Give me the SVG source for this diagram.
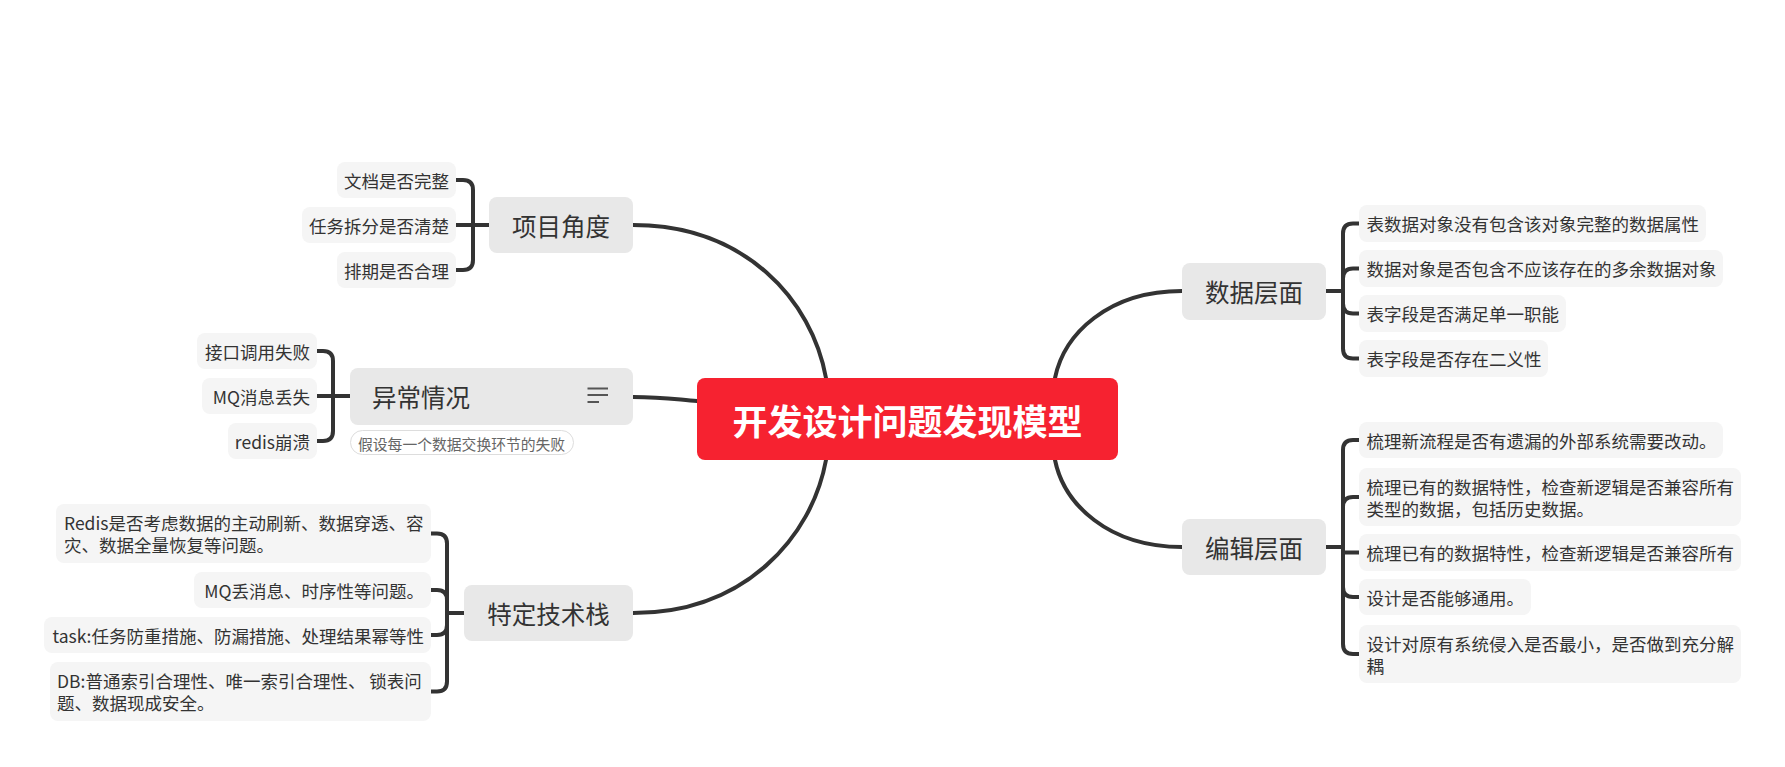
<svg xmlns="http://www.w3.org/2000/svg" width="1785" height="767" viewBox="0 0 1785 767">
<style>
text{font-family:"Noto Sans CJK SC","Noto Sans",sans-serif;fill:#333;dominant-baseline:central}
.main{fill:#E8E8E8}
.sub{fill:#F5F5F5}
.mt{font-size:24.5px}
.st{font-size:17.5px}
.end{text-anchor:end}
.mid{text-anchor:middle}
.ln{fill:none;stroke:#333;stroke-width:4;stroke-linecap:round;stroke-linejoin:round}
</style>
<rect width="1785" height="767" fill="#FFFFFF"/>
<g id="connectors">
<path class="ln" d="M633,225 C745,225 812,300 826,378"/>
<path class="ln" d="M633,397 C665,397 680,400 697,401"/>
<path class="ln" d="M633,613 C745,613 812,537 826,460"/>
<path class="ln" d="M1055,378 C1064,334 1108,291 1182,291"/>
<path class="ln" d="M1055,460 C1064,504 1108,547 1182,547"/>
<path class="ln" d="M489,225 H473 M456,180 H463 Q473,180 473,190 V260 Q473,270 463,270 H456 M456,225 H473"/>
<path class="ln" d="M350,396 H333 M317,351 H323 Q333,351 333,361 V431 Q333,441 323,441 H317 M317,396 H333"/>
<path class="ln" d="M464,613 H447 M431,533.5 H437 Q447,533.5 447,543.5 V681.5 Q447,691.5 437,691.5 H431 M431,590 H437 Q447,590 447,600 M431,635 H437 Q447,635 447,625"/>
<path class="ln" d="M1326,291 H1343 M1359,223.5 H1353 Q1343,223.5 1343,233.5 V348.5 Q1343,358.5 1353,358.5 H1359 M1359,268.5 H1353 Q1343,268.5 1343,278.5 M1359,313.5 H1353 Q1343,313.5 1343,303.5"/>
<path class="ln" d="M1326,547 H1343 M1359,440 H1353 Q1343,440 1343,450 V644 Q1343,654 1353,654 H1359 M1359,497 H1353 Q1343,497 1343,507 M1359,552.5 H1343 M1359,597 H1353 Q1343,597 1343,587"/>
</g>
<g id="center">
<rect x="697" y="378" width="421" height="82" rx="8" fill="#F62230"/>
<text x="907.5" y="419" class="mid" style="font-size:35px;font-weight:bold;fill:#FFFFFF">开发设计问题发现模型</text>
</g>
<g id="node-xiangmu">
<rect class="main" x="489" y="197" width="144" height="56" rx="8"/>
<text class="mt mid" x="561" y="225">项目角度</text>
</g>
<g id="node-xiangmu-1"><rect class="sub" x="337" y="162" width="119" height="36" rx="8"/><text class="st end" x="449" y="180">文档是否完整</text></g>
<g id="node-xiangmu-2"><rect class="sub" x="302" y="207" width="154" height="36" rx="8"/><text class="st end" x="449" y="225">任务拆分是否清楚</text></g>
<g id="node-xiangmu-3"><rect class="sub" x="337" y="252" width="119" height="36" rx="8"/><text class="st end" x="449" y="270">排期是否合理</text></g>
<g id="node-yichang">
<rect class="main" x="350" y="368" width="283" height="57" rx="8"/>
<text class="mt" x="372" y="396.5">异常情况</text>
<path d="M587.5,388.5 H608 M587.5,395 H608 M587.5,402 H599" stroke="#555" stroke-width="2" fill="none"/>
</g>
<g id="note-yichang">
<rect x="350.5" y="430.5" width="223" height="24" rx="12" fill="#FFFFFF" stroke="#DDDDDD" stroke-width="1"/>
<text x="358" y="443" style="font-size:14.8px;fill:#666">假设每一个数据交换环节的失败</text>
</g>
<g id="node-yichang-1"><rect class="sub" x="197" y="333" width="120" height="36" rx="8"/><text class="st end" x="310" y="351">接口调用失败</text></g>
<g id="node-yichang-2"><rect class="sub" x="202" y="378" width="115" height="36" rx="8"/><text class="st end" x="310" y="396">MQ消息丢失</text></g>
<g id="node-yichang-3"><rect class="sub" x="228" y="423" width="89" height="36" rx="8"/><text class="st end" x="310" y="441">redis崩溃</text></g>
<g id="node-jishu">
<rect class="main" x="464" y="585" width="169" height="56" rx="8"/>
<text class="mt mid" x="548.5" y="613">特定技术栈</text>
</g>
<g id="node-jishu-1"><rect class="sub" x="56" y="504" width="375" height="59" rx="8"/><text class="st" x="64" y="522.5">Redis是否考虑数据的主动刷新、数据穿透、容</text><text class="st" x="64" y="544.5">灾、数据全量恢复等问题。</text></g>
<g id="node-jishu-2"><rect class="sub" x="194" y="572" width="237" height="36" rx="8"/><text class="st end" x="424" y="590">MQ丢消息、时序性等问题。</text></g>
<g id="node-jishu-3"><rect class="sub" x="44" y="617" width="387" height="36" rx="8"/><text class="st end" x="424" y="635">task:任务防重措施、防漏措施、处理结果幂等性</text></g>
<g id="node-jishu-4"><rect class="sub" x="50" y="662" width="381" height="59" rx="8"/><text class="st" x="57" y="680.5">DB:普通索引合理性、唯一索引合理性、 锁表问</text><text class="st" x="57" y="702.5">题、数据现成安全。</text></g>
<g id="node-shuju">
<rect class="main" x="1182" y="263" width="144" height="57" rx="8"/>
<text class="mt mid" x="1254" y="291.5">数据层面</text>
</g>
<g id="node-shuju-1"><rect class="sub" x="1359" y="205" width="347" height="37" rx="8"/><text class="st" x="1366.5" y="223.5">表数据对象没有包含该对象完整的数据属性</text></g>
<g id="node-shuju-2"><rect class="sub" x="1359" y="250" width="364" height="37" rx="8"/><text class="st" x="1366.5" y="268.5">数据对象是否包含不应该存在的多余数据对象</text></g>
<g id="node-shuju-3"><rect class="sub" x="1359" y="295" width="207" height="37" rx="8"/><text class="st" x="1366.5" y="313.5">表字段是否满足单一职能</text></g>
<g id="node-shuju-4"><rect class="sub" x="1359" y="340" width="189" height="37" rx="8"/><text class="st" x="1366.5" y="358.5">表字段是否存在二义性</text></g>
<g id="node-bianji">
<rect class="main" x="1182" y="519" width="144" height="56" rx="8"/>
<text class="mt mid" x="1254" y="547">编辑层面</text>
</g>
<g id="node-bianji-1"><rect class="sub" x="1359" y="422" width="364" height="36" rx="8"/><text class="st" x="1366.5" y="440">梳理新流程是否有遗漏的外部系统需要改动。</text></g>
<g id="node-bianji-2"><rect class="sub" x="1359" y="468" width="382" height="58" rx="8"/><text class="st" x="1366.5" y="486">梳理已有的数据特性，检查新逻辑是否兼容所有</text><text class="st" x="1366.5" y="508">类型的数据，包括历史数据。</text></g>
<g id="node-bianji-3"><rect class="sub" x="1359" y="534" width="382" height="37" rx="8"/><text class="st" x="1366.5" y="552.5">梳理已有的数据特性，检查新逻辑是否兼容所有</text></g>
<g id="node-bianji-4"><rect class="sub" x="1359" y="579" width="172" height="36" rx="8"/><text class="st" x="1366.5" y="597">设计是否能够通用。</text></g>
<g id="node-bianji-5"><rect class="sub" x="1359" y="625" width="382" height="58" rx="8"/><text class="st" x="1366.5" y="643">设计对原有系统侵入是否最小，是否做到充分解</text><text class="st" x="1366.5" y="665">耦</text></g>
</svg>
